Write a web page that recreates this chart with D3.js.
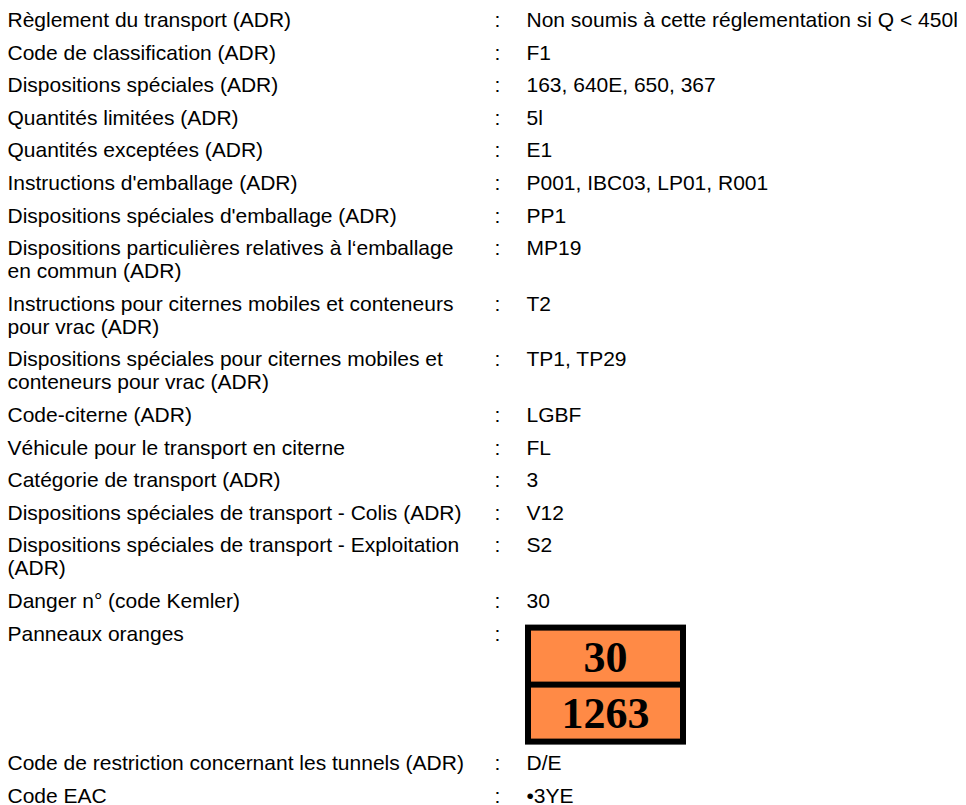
<!DOCTYPE html>
<meta charset="utf-8">
<style>
  body { margin: 0; background: #fff; }
  svg text { font-family: "Liberation Sans", Arial, sans-serif; font-size: 21px; fill: #000; }
  .plate text { font-family: "Liberation Serif", "Times New Roman", serif; font-weight: bold; font-size: 44px; }
</style>
<body>
<div id="chart"></div>
<script src="https://d3js.org/d3.v7.min.js"></script>
<script>
// rubriques (une ligne par entrée, certaines sur deux lignes)
var labels = [
  ["Règlement du transport (ADR)"],
  ["Code de classification (ADR)"],
  ["Dispositions spéciales (ADR)"],
  ["Quantités limitées (ADR)"],
  ["Quantités exceptées (ADR)"],
  ["Instructions d'emballage (ADR)"],
  ["Dispositions spéciales d'emballage (ADR)"],
  ["Dispositions particulières relatives à l‘emballage", "en commun (ADR)"],
  ["Instructions pour citernes mobiles et conteneurs", "pour vrac (ADR)"],
  ["Dispositions spéciales pour citernes mobiles et", "conteneurs pour vrac (ADR)"],
  ["Code-citerne (ADR)"],
  ["Véhicule pour le transport en citerne"],
  ["Catégorie de transport (ADR)"],
  ["Dispositions spéciales de transport - Colis (ADR)"],
  ["Dispositions spéciales de transport - Exploitation", "(ADR)"],
  ["Danger n° (code Kemler)"],
  ["Panneaux oranges"],
  ["Code de restriction concernant les tunnels (ADR)"],
  ["Code EAC"]
];

var values = [
  "Non soumis à cette réglementation si Q < 450l",
  "F1",
  "163, 640E, 650, 367",
  "5l",
  "E1",
  "P001, IBC03, LP01, R001",
  "PP1",
  "MP19",
  "T2",
  "TP1, TP29",
  "LGBF",
  "FL",
  "3",
  "V12",
  "S2",
  "30",
  null,
  "D/E",
  "•3YE"
];

// panneau orange : code danger / numéro ONU
var plate = ["30", "1263"];
var plateRow = 16;

var width = 966, height = 805;
var lineH = 23, pad = 9.6, plateH = 120, plateW = 161;

// hauteur de chaque ligne du tableau
var rowH = labels.map(function(d, i) {
  return (i === plateRow ? plateH : d.length * lineH) + pad;
});
var rowTop = [0];
rowH.forEach(function(h, i) { rowTop.push(rowTop[i] + h); });

var y = d3.scaleLinear().domain([0, 1]).range([27, 28]);   // baseline of row 1 at 27px
var x = d3.scaleOrdinal().domain(["label", "colon", "value"]).range([7.5, 494.5, 526.5]);

var svg = d3.select("#chart").append("svg")
    .attr("width", width)
    .attr("height", height);

var rows = svg.selectAll("g.row")
    .data(labels)
  .enter().append("g")
    .attr("class", "row")
    .attr("transform", function(d, i) { return "translate(0," + y(rowTop[i]) + ")"; });

rows.selectAll("text.label")
    .data(function(d) { return d; })
  .enter().append("text")
    .attr("class", "label")
    .attr("x", x("label"))
    .attr("y", function(d, j) { return j * lineH; })
    .text(function(d) { return d; });

rows.append("text")
    .attr("x", x("colon"))
    .text(":");

rows.filter(function(d, i) { return values[i] !== null; })
  .append("text")
    .attr("x", x("value"))
    .text(function(d, i) { return values[labels.indexOf(d)]; });

// panneau
var py = y(rowTop[plateRow]) - 16;
var px = 525;
var g = svg.append("g").attr("class", "plate").attr("transform", "translate(" + px + "," + py + ")");
var cell = d3.scaleBand().domain(plate).range([0, plateH]);

g.append("rect")
    .attr("width", plateW).attr("height", plateH)
    .attr("fill", "#000");

g.selectAll("rect.cell")
    .data(plate)
  .enter().append("rect")
    .attr("class", "cell")
    .attr("x", 6)
    .attr("y", function(d, i) { return cell(d) + (i === 0 ? 6 : 3); })
    .attr("width", plateW - 12)
    .attr("height", cell.bandwidth() - 9)
    .attr("fill", "#ff8a46");

g.selectAll("text")
    .data(plate)
  .enter().append("text")
    .attr("x", plateW / 2)
    .attr("y", function(d, i) { return cell(d) + cell.bandwidth() / 2 + (i === 0 ? 17 : 13); })
    .attr("text-anchor", "middle")
    .text(function(d) { return d; });
</script>
</body>
</html>
